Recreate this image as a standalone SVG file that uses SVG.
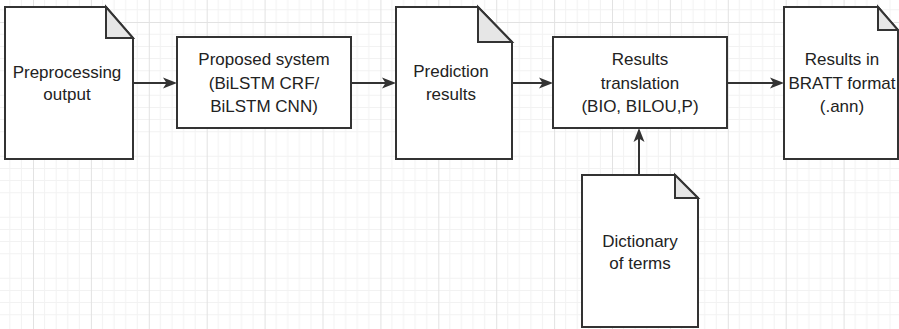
<svg xmlns="http://www.w3.org/2000/svg" width="899" height="329" viewBox="0 0 899 329">
<style>
.shape{fill:#ffffff;stroke:#333333;stroke-width:2;stroke-linejoin:miter}
.fold{fill:#e6e6e6;stroke:#333333;stroke-width:2}
.lbl{font-family:"Liberation Sans",Arial,sans-serif;font-size:17px;fill:#222222;text-anchor:middle}
.conn{fill:none;stroke:#333333;stroke-width:2}
.minor{stroke:#f2f2f2;stroke-width:1}
.major{stroke:#e2e2e2;stroke-width:1}
</style>
<defs>
<pattern id="grid" patternUnits="userSpaceOnUse" x="33" y="22" width="57.9" height="61">
<path class="minor" d="M11.58,0V61M23.16,0V61M34.74,0V61M46.32,0V61M0,12.2H57.9M0,24.4H57.9M0,36.6H57.9M0,48.8H57.9"/>
<path class="major" d="M0.5,0V61M0,0.5H57.9"/>
</pattern>
<marker id="arr" markerUnits="userSpaceOnUse" markerWidth="16" markerHeight="12" viewBox="0 0 14 12" refX="9" refY="6" orient="auto">
<path d="M0,0.5L14,6L0,11.5L3.5,6Z" fill="#333333"/>
</marker>
</defs>
<rect width="899" height="329" fill="#ffffff"/>
<rect width="899" height="329" fill="url(#grid)"/>
<g id="connectors">
<line class="conn" x1="133" y1="83" x2="172" y2="83" marker-end="url(#arr)"/>
<line class="conn" x1="351" y1="83" x2="391" y2="83" marker-end="url(#arr)"/>
<line class="conn" x1="512" y1="83" x2="548" y2="83" marker-end="url(#arr)"/>
<line class="conn" x1="727" y1="83" x2="779" y2="83" marker-end="url(#arr)"/>
<line class="conn" x1="639" y1="175" x2="639" y2="133" marker-end="url(#arr)"/>
</g>
<g id="preprocessing-output">
<path class="shape" d="M5,7H106L133,38V159H5Z"/>
<path class="fold" d="M106,7V38H133Z"/>
<text class="lbl" x="67" y="78">Preprocessing</text>
<text class="lbl" x="67" y="100">output</text>
</g>
<g id="proposed-system">
<rect class="shape" x="177" y="37" width="174" height="91"/>
<text class="lbl" x="264" y="65">Proposed system</text>
<text class="lbl" x="264" y="89">(BiLSTM CRF/</text>
<text class="lbl" x="264" y="112">BiLSTM CNN)</text>
</g>
<g id="prediction-results">
<path class="shape" d="M396,7H478L512,42V159H396Z"/>
<path class="fold" d="M478,7V42H512Z"/>
<text class="lbl" x="451" y="77">Prediction</text>
<text class="lbl" x="451" y="100">results</text>
</g>
<g id="results-translation">
<rect class="shape" x="553" y="37" width="174" height="91"/>
<text class="lbl" x="640" y="65">Results</text>
<text class="lbl" x="640" y="89">translation</text>
<text class="lbl" x="640" y="112">(BIO, BILOU,P)</text>
</g>
<g id="results-bratt">
<path class="shape" d="M784,7H878L898,30V159H784Z"/>
<path class="fold" d="M878,7V30H898Z"/>
<text class="lbl" x="842" y="65">Results in</text>
<text class="lbl" x="842" y="89">BRATT format</text>
<text class="lbl" x="842" y="112">(.ann)</text>
</g>
<g id="dictionary-of-terms">
<path class="shape" d="M582,175H675L698,198V327H582Z"/>
<path class="fold" d="M675,175V198H698Z"/>
<text class="lbl" x="640" y="247">Dictionary</text>
<text class="lbl" x="640" y="269">of terms</text>
</g>
</svg>
